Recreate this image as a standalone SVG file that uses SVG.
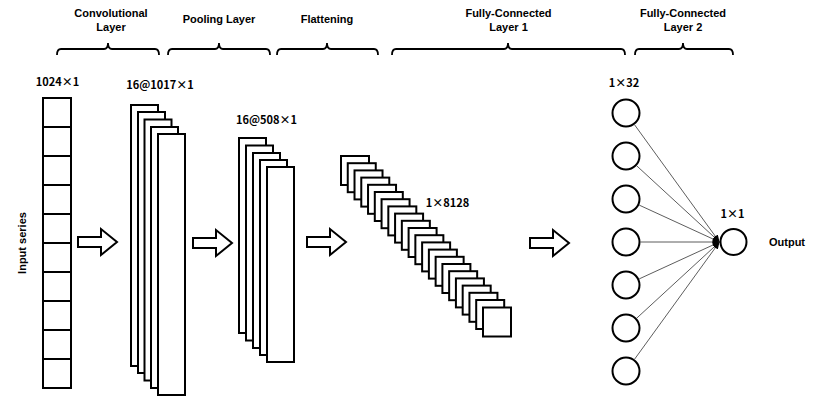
<svg xmlns="http://www.w3.org/2000/svg" width="817" height="398" viewBox="0 0 817 398">
<style>
.bg{fill:#fff}
.lbl{font-family:"Liberation Sans",Arial,sans-serif;font-weight:bold;font-size:11px;fill:#000;text-anchor:middle}
.dim{font-family:"Noto Sans CJK SC",sans-serif;font-weight:bold;font-size:11px;fill:#000;text-anchor:middle}
.brace{fill:none;stroke:#000;stroke-width:1.8}
.box{fill:#fff;stroke:#000;stroke-width:2}
.neuron{fill:#fff;stroke:#000;stroke-width:2}
.arrow{fill:#fff;stroke:#000;stroke-width:2;stroke-linejoin:miter}
.conn{fill:none;stroke:#333;stroke-width:0.8;marker-end:url(#ah)}
</style>
<defs>
<marker id="ah" markerUnits="userSpaceOnUse" markerWidth="7" markerHeight="6" refX="7" refY="3" orient="auto">
<path d="M0,0 L7,3 L0,6 Z" fill="#000"/>
</marker>
<path id="blockArrow" d="M0,-5 H23 V-13 L39,0 L23,13 V5 H0 Z"/>
</defs>
<rect class="bg" x="0" y="0" width="817" height="398"/>

<g id="headers">
<text class="lbl" x="111" y="17">Convolutional</text>
<text class="lbl" x="111" y="30.5">Layer</text>
<text class="lbl" x="219" y="23">Pooling Layer</text>
<text class="lbl" x="327" y="23">Flattening</text>
<text class="lbl" x="508.5" y="17">Fully-Connected</text>
<text class="lbl" x="508.5" y="30.5">Layer 1</text>
<text class="lbl" x="683" y="17">Fully-Connected</text>
<text class="lbl" x="683" y="30.5">Layer 2</text>
<path class="brace" d="M57,55 Q57,49 61,49 H104 Q108,49 108,43 Q108,49 112,49 H155 Q159,49 159,55"/>
<path class="brace" d="M168,55 Q168,49 172,49 H215 Q219,49 219,43 Q219,49 223,49 H266 Q270,49 270,55"/>
<path class="brace" d="M277,55 Q277,49 281,49 H323 Q327,49 327,43 Q327,49 331,49 H374 Q378,49 378,55"/>
<path class="brace" d="M392,55 Q392,49 396,49 H504 Q508,49 508,43 Q508,49 512,49 H621 Q625,49 625,55"/>
<path class="brace" d="M635,55 Q635,49 639,49 H679 Q683,49 683,43 Q683,49 687,49 H729 Q733,49 733,55"/>
</g>

<g id="input">
<text class="lbl" transform="translate(26,243) rotate(-90)" x="0" y="0">Input series</text>
<text class="dim" x="57.5" y="86">1024×1</text>
<rect class="box" x="43" y="98" width="28" height="290"/>
<path d="M43,127 H71 M43,156 H71 M43,185 H71 M43,214 H71 M43,243 H71 M43,272 H71 M43,301 H71 M43,330 H71 M43,359 H71" stroke="#000" stroke-width="2"/>
</g>

<g id="conv">
<text class="dim" x="160" y="89">16@1017×1</text>
<rect class="box" x="131" y="105" width="27" height="261"/>
<rect class="box" x="138" y="112" width="27" height="261"/>
<rect class="box" x="144.5" y="119.5" width="27" height="261"/>
<rect class="box" x="151" y="127" width="27" height="261"/>
<rect class="box" x="158" y="134" width="27" height="261"/>
</g>

<g id="pool">
<text class="dim" x="266.5" y="124">16@508×1</text>
<rect class="box" x="239" y="138" width="27" height="195"/>
<rect class="box" x="246" y="145.5" width="27" height="195"/>
<rect class="box" x="253" y="153" width="27" height="195"/>
<rect class="box" x="260" y="160" width="27" height="195"/>
<rect class="box" x="267" y="167" width="27" height="195"/>
</g>

<g id="flatten">
<text class="dim" x="447.5" y="207">1×8128</text>
<rect class="box" x="341" y="156" width="28" height="29"/>
<rect class="box" x="347.76" y="163.2" width="28" height="29"/>
<rect class="box" x="354.52" y="170.4" width="28" height="29"/>
<rect class="box" x="361.28" y="177.6" width="28" height="29"/>
<rect class="box" x="368.04" y="184.8" width="28" height="29"/>
<rect class="box" x="374.8" y="192" width="28" height="29"/>
<rect class="box" x="381.56" y="199.2" width="28" height="29"/>
<rect class="box" x="388.32" y="206.4" width="28" height="29"/>
<rect class="box" x="395.08" y="213.6" width="28" height="29"/>
<rect class="box" x="401.84" y="220.8" width="28" height="29"/>
<rect class="box" x="408.6" y="228" width="28" height="29"/>
<rect class="box" x="415.36" y="235.2" width="28" height="29"/>
<rect class="box" x="422.12" y="242.4" width="28" height="29"/>
<rect class="box" x="428.88" y="249.6" width="28" height="29"/>
<rect class="box" x="435.64" y="256.8" width="28" height="29"/>
<rect class="box" x="442.4" y="264" width="28" height="29"/>
<rect class="box" x="449.16" y="271.2" width="28" height="29"/>
<rect class="box" x="455.92" y="278.4" width="28" height="29"/>
<rect class="box" x="462.68" y="285.6" width="28" height="29"/>
<rect class="box" x="469.44" y="292.8" width="28" height="29"/>
<rect class="box" x="476.2" y="300" width="28" height="29"/>
<rect class="box" x="483" y="307.5" width="28" height="29"/>
</g>

<g id="fc1">
<text class="dim" x="624" y="87">1×32</text>
<circle class="neuron" cx="626" cy="113" r="13.5"/>
<circle class="neuron" cx="626" cy="156" r="13.5"/>
<circle class="neuron" cx="626" cy="199" r="13.5"/>
<circle class="neuron" cx="626" cy="242" r="13.5"/>
<circle class="neuron" cx="626" cy="285" r="13.5"/>
<circle class="neuron" cx="626" cy="328" r="13.5"/>
<circle class="neuron" cx="626" cy="371" r="13.5"/>
</g>

<g id="fc2">
<text class="dim" x="732.5" y="218">1×1</text>
<circle class="neuron" cx="733.5" cy="242" r="13"/>
<text class="lbl" x="787" y="246">Output</text>
</g>

<g id="connectors">
<use href="#blockArrow" class="arrow" x="78" y="242"/>
<use href="#blockArrow" class="arrow" x="193" y="243"/>
<use href="#blockArrow" class="arrow" x="307" y="242"/>
<use href="#blockArrow" class="arrow" x="530" y="243"/>
<line class="conn" x1="634.5" y1="124.7" x2="719.5" y2="242"/>
<line class="conn" x1="636.7" y1="165.8" x2="719.5" y2="242"/>
<line class="conn" x1="639.2" y1="205.1" x2="719.5" y2="242"/>
<line class="conn" x1="640.5" y1="242" x2="719.5" y2="242"/>
<line class="conn" x1="639.2" y1="278.9" x2="719.5" y2="242"/>
<line class="conn" x1="636.7" y1="318.2" x2="719.5" y2="242"/>
<line class="conn" x1="634.5" y1="359.3" x2="719.5" y2="242"/>
</g>
</svg>
